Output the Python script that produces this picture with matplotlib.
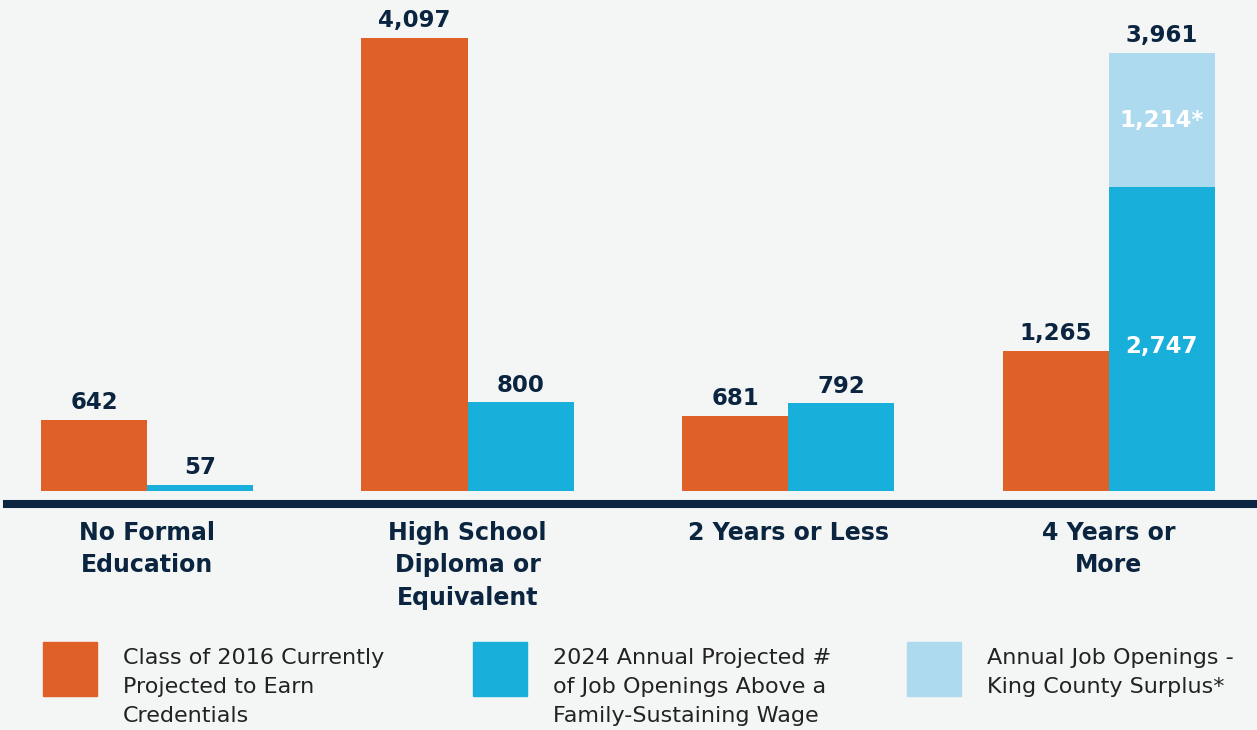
import matplotlib.pyplot as plt
import matplotlib.patches as patches
import numpy as np

# data
categories = ["No Formal\nEducation", "High School\nDiploma or\nEquivalent",
              "2 Years or Less", "4 Years or\nMore"]
class_2016 = [642, 4097, 681, 1265]
openings = [57, 800, 792, 2747]
surplus = [0, 0, 0, 1214]
legend_labels = ["Class of 2016 Currently\nProjected to Earn\nCredentials",
                 "2024 Annual Projected #\nof Job Openings Above a\nFamily-Sustaining Wage",
                 "Annual Job Openings -\nKing County Surplus*"]

orange = "#E06127"
blue = "#18B0DA"
light = "#ADDAEF"
navy = "#0B2540"
bg = "#F4F6F5"

W, H = 1257, 730
fig = plt.figure(figsize=(W / 100, H / 100), dpi=100, facecolor=bg)
ax = fig.add_axes([7 / W, (H - 504) / H, 1250 / W, 504 / H])
ax.set_facecolor(bg)

x = np.arange(len(categories))
w = 0.331
ax.bar(x - w / 2, class_2016, w, color=orange)
ax.bar(x + w / 2, openings, w, color=blue)
ax.bar(x + w / 2, surplus, w, bottom=openings, color=light)

ax.set_xlim(-0.437, 3.463)
ax.set_ylim(-118, 4439)

lab = dict(ha="center", va="bottom", fontsize=16.5, fontweight="bold", color=navy)
for i in range(len(x)):
    ax.annotate(f"{class_2016[i]:,}", (x[i] - w / 2, class_2016[i]),
                xytext=(0, 4), textcoords="offset points", **lab)
    if surplus[i] > 0:
        tot = openings[i] + surplus[i]
        ax.annotate(f"{tot:,}", (x[i] + w / 2, tot),
                    xytext=(0, 4), textcoords="offset points", **lab)
        ax.text(x[i] + w / 2, openings[i] + surplus[i] / 2, f"{surplus[i]:,}*",
                ha="center", va="center", fontsize=16.5, fontweight="bold", color="white")
        ax.text(x[i] + w / 2, openings[i] * 0.475, f"{openings[i]:,}",
                ha="center", va="center", fontsize=16.5, fontweight="bold", color="white")
    else:
        ax.annotate(f"{openings[i]:,}", (x[i] + w / 2, openings[i]),
                    xytext=(0, 4), textcoords="offset points", **lab)

for s in ["top", "left", "right"]:
    ax.spines[s].set_visible(False)
ax.spines["bottom"].set_color(navy)
ax.spines["bottom"].set_linewidth(5.8)
ax.set_yticks([])
ax.set_xticks(x)
ax.set_xticklabels(categories, fontsize=17, fontweight="bold", color=navy,
                   linespacing=1.45)
ax.tick_params(axis="x", length=0, pad=12)

# legend
cols = [orange, blue, light]
px = [43, 473, 907]
for c, p, t in zip(cols, px, legend_labels):
    fig.add_artist(patches.Rectangle((p / W, (H - 696) / H), 54 / W, 54 / H,
                                     transform=fig.transFigure, color=c))
    fig.text((p + 80) / W, (H - 648) / H, t, ha="left", va="top",
             fontsize=16, color="#222222", linespacing=1.55)

fig.savefig("out.png", dpi=100, facecolor=bg)
